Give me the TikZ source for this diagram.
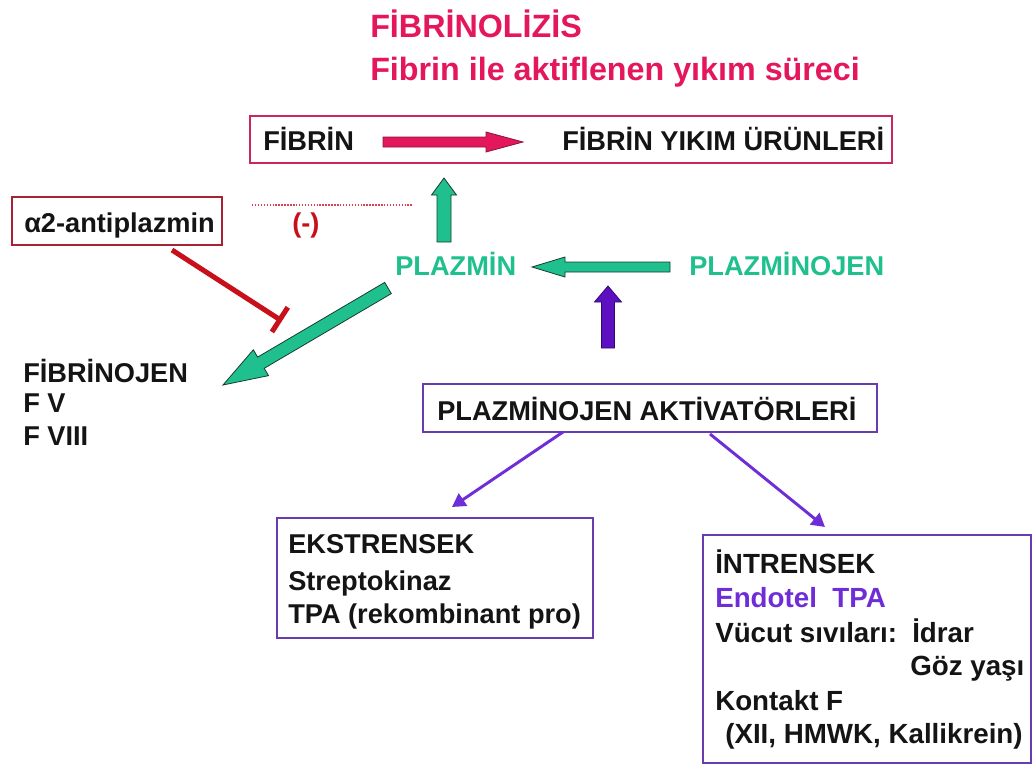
\documentclass[tikz,border=0pt]{standalone}
\usepackage{fontspec}
\setmainfont{Liberation Sans}
\usetikzlibrary{calc,arrows.meta}
\definecolor{titlepink}{RGB}{228,22,92}
\definecolor{pinkline}{RGB}{200,40,95}
\definecolor{pinkdark}{RGB}{140,20,60}
\definecolor{grn}{RGB}{32,192,142}
\definecolor{grndark}{RGB}{25,60,45}
\definecolor{purp}{RGB}{92,16,192}
\definecolor{purpdark}{RGB}{50,10,110}
\definecolor{purpline}{RGB}{110,45,215}
\definecolor{purpbox}{RGB}{105,60,175}
\definecolor{inhred}{RGB}{200,16,26}
\definecolor{boxred}{RGB}{165,35,50}
\definecolor{dotred}{RGB}{215,70,80}
\definecolor{txtblack}{RGB}{20,20,20}
\newcommand\blockarrow[6]{% #1 style, #2 from, #3 to, #4 shaft half width, #5 head half width, #6 head length (px)
  \draw[#1] let \p1=(#2), \p2=(#3),
    \n1={veclen(\x2-\x1,\y2-\y1)},
    \n2={(\x2-\x1)/\n1}, \n3={(\y2-\y1)/\n1},
    \p3=({\x2-(\n2)*#6*0.75pt},{\y2-(\n3)*#6*0.75pt})
  in ({\x1-(\n3)*#4*0.75pt},{\y1+(\n2)*#4*0.75pt})
  -- ({\x3-(\n3)*#4*0.75pt},{\y3+(\n2)*#4*0.75pt})
  -- ({\x3-(\n3)*#5*0.75pt},{\y3+(\n2)*#5*0.75pt})
  -- (\p2)
  -- ({\x3+(\n3)*#5*0.75pt},{\y3-(\n2)*#5*0.75pt})
  -- ({\x3+(\n3)*#4*0.75pt},{\y3-(\n2)*#4*0.75pt})
  -- ({\x1+(\n3)*#4*0.75pt},{\y1-(\n2)*#4*0.75pt}) -- cycle;}
\begin{document}
\begin{tikzpicture}[x=0.75pt,y=-0.75pt,
  txt/.style={inner sep=0pt, anchor=base west, text=txtblack, font=\fontsize{20.4}{24}\selectfont\bfseries},
  bigtxt/.style={txt, font=\fontsize{20.8}{25}\selectfont\bfseries},
  ttl/.style={inner sep=0pt, anchor=base west, text=titlepink, font=\fontsize{24.2}{28}\selectfont\bfseries},
  gtxt/.style={txt, text=grn},
  framebox/.style={draw, line width=1.2pt, inner sep=0pt},
  pinkarrow/.style={fill=titlepink, draw=pinkdark, line width=0.6pt},
  greenarrow/.style={fill=grn, draw=grndark, line width=0.6pt},
  purparrow/.style={fill=purp, draw=purpdark, line width=0.6pt},
  thinarrow/.style={draw=purpline, line width=2.2pt, -{Triangle[length=10pt,width=11pt]}},
  inhibit/.style={draw=inhred, line width=3.8pt, -{Bar[width=22pt]}},
  dottedlink/.style={draw=dotred, line width=1pt, dash pattern=on 1.1pt off 1.1pt}]
\useasboundingbox (0,0) rectangle (1033,764);

% titles
\node[ttl] (title1) at (370,37) {FİBRİNOLİZİS};
\node[ttl] (title2) at (370,80) {Fibrin ile aktiflenen yıkım süreci};

% top box
\node[framebox, draw=pinkline, minimum width=481.5pt, minimum height=35.25pt] (topbox) at (571,139.5) {};
\node[txt] (fibrin) at (263,150) {FİBRİN};
\node[txt] (fyu) at (562,150) {FİBRİN YIKIM ÜRÜNLERİ};
\coordinate (pa) at (383,142);
\coordinate (pb) at (523,142);
\blockarrow{pinkarrow}{pa}{pb}{5}{10}{37}

% alpha2-antiplazmin
\node[framebox, draw=boxred, minimum width=157.5pt, minimum height=36pt] (a2box) at (117,221) {};
\node[txt] (a2) at (24,232) {α2-antiplazmin};
\coordinate (dotA) at (252,205);
\coordinate (dotB) at (413,205);
\draw[dottedlink] (dotA) -- (dotB);
\node[txt, text=inhred] (minus) at (292,232) {(-)};

% plazmin / plazminojen
\node[gtxt] (plazmin) at (395,275) {PLAZMİN};
\node[gtxt] (plazminojen) at (689,275) {PLAZMİNOJEN};
\coordinate (upS) at (444,242);
\coordinate (upT) at (444,178);
\blockarrow{greenarrow}{upS}{upT}{7}{12.5}{17}
\coordinate (hS) at (670,267);
\coordinate (hT) at (532,267);
\blockarrow{greenarrow}{hS}{hT}{5}{10}{33}
\coordinate (dS) at (388,288);
\coordinate (dT) at (223,385);
\blockarrow{greenarrow}{dS}{dT}{6.5}{15}{44}
\coordinate (pS) at (608,348);
\coordinate (pT) at (608,286);
\blockarrow{purparrow}{pS}{pT}{6.5}{13.5}{16}

% inhibition
\coordinate (inhS) at (172,250);
\coordinate (inhT) at (282,321);
\draw[inhibit] (inhS) -- (inhT);

% substrates
\node[txt] (fibrinojen) at (23,382) {FİBRİNOJEN};
\node[txt] (fv) at (23,412) {F V};
\node[txt] (fviii) at (23,445) {F VIII};

% activators
\node[framebox, draw=purpbox, minimum width=340.5pt, minimum height=36pt] (pabox) at (650,408) {};
\node[txt] (patext) at (437,420) {PLAZMİNOJEN AKTİVATÖRLERİ};

\node[framebox, draw=purpbox, minimum width=237pt, minimum height=90pt] (eksbox) at (435,578) {};
\node[txt] (eks1) at (288,553) {EKSTRENSEK};
\node[txt] (eks2) at (288,590) {Streptokinaz};
\node[txt] (eks3) at (288,623) {TPA (rekombinant pro)};

\node[framebox, draw=purpbox, minimum width=246pt, minimum height=171pt] (intbox) at (867,649) {};
\node[bigtxt] (int1) at (715,573) {İNTRENSEK};
\node[bigtxt, text=purpline] (int2) at (715,607) {Endotel\ \ TPA};
\node[bigtxt] (int3) at (715,642) {Vücut sıvıları:};
\node[bigtxt] (int3b) at (912,642) {İdrar};
\node[bigtxt] (int4) at (910,675) {Göz yaşı};
\node[bigtxt] (int5) at (715,710) {Kontakt F};
\node[bigtxt] (int6) at (725,743) {(XII, HMWK, Kallikrein)};

\coordinate (l1) at (563,432);
\coordinate (l2) at (452,507);
\coordinate (r1) at (710,434);
\coordinate (r2) at (825,527);
\draw[thinarrow] (l1) -- (l2);
\draw[thinarrow] (r1) -- (r2);
\end{tikzpicture}
\end{document}
